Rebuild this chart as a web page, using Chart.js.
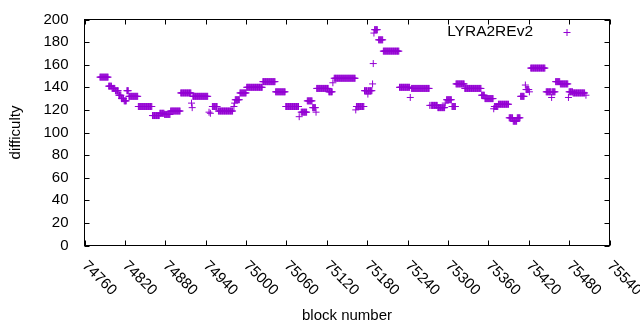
<!DOCTYPE html>
<html>
<head>
<meta charset="utf-8">
<script src="https://cdn.jsdelivr.net/npm/chart.js@4/dist/chart.umd.min.js"></script>
<style>
  html, body { margin: 0; padding: 0; background: #fff; }
</style>
</head>
<body>
<canvas id="chart" width="640" height="330"></canvas>
<script>
// difficulty runs: block from / block to / difficulty
const runFrom = [74783, 74796, 74801, 74806, 74811, 74815, 74819, 74823, 74826, 74840,
  74861, 74872, 74879, 74888, 74903, 74919, 74920, 74921, 74945, 74947,
  74950, 74959, 74982, 74983, 74984, 74991, 75001, 75025, 75044, 75059,
  75079, 75082, 75091, 75099, 75104, 75105, 75123, 75129, 75131, 75163,
  75164, 75176, 75181, 75182, 75188, 75189, 75190, 75191, 75197, 75204,
  75228, 75244, 75246, 75273, 75275, 75285, 75296, 75298, 75306, 75312,
  75325, 75350, 75355, 75368, 75369, 75375, 75391, 75397, 75403, 75408,
  75415, 75416, 75421, 75423, 75446, 75454, 75455, 75460, 75467, 75479,
  75480, 75486, 75505];
const runTo = [74795, 74800, 74805, 74810, 74814, 74818, 74822, 74825, 74839, 74860,
  74871, 74878, 74887, 74902, 74918, 74919, 74920, 74943, 74945, 74947,
  74957, 74980, 74982, 74983, 74990, 75000, 75024, 75043, 75058, 75078,
  75079, 75090, 75098, 75103, 75104, 75122, 75128, 75129, 75162, 75163,
  75175, 75180, 75181, 75187, 75188, 75189, 75190, 75195, 75203, 75227,
  75243, 75244, 75272, 75273, 75284, 75295, 75296, 75305, 75311, 75324,
  75349, 75354, 75367, 75368, 75374, 75390, 75396, 75402, 75407, 75413,
  75415, 75420, 75421, 75444, 75453, 75454, 75459, 75466, 75478, 75479,
  75485, 75503, 75505];
const runDiff = [149, 141, 139, 137, 133, 130, 128, 137, 132, 123,
  115, 117, 116, 119, 135, 126, 122, 132, 118, 117,
  123, 119, 123, 126, 129, 135, 140, 145, 136, 123,
  114, 118, 128, 122, 118, 139, 136, 144, 148, 120,
  123, 137, 134, 137, 143, 161, 188, 191, 182, 172,
  140, 131, 139, 124, 124, 122, 126, 129, 123, 143,
  139, 133, 130, 121, 123, 125, 113, 110, 113, 132,
  142, 138, 136, 157, 136, 131, 136, 145, 143, 131,
  136, 135, 133];

const seriesName = 'LYRA2REv2';
const xTicks = [74760, 74820, 74880, 74940, 75000, 75060, 75120, 75180, 75240, 75300, 75360, 75420, 75480, 75540];
const yTicks = [0, 20, 40, 60, 80, 100, 120, 140, 160, 180, 200];

const FONT = "'Liberation Sans', Arial, sans-serif";
const PURPLE = 'rgb(148, 0, 211)';

// one point per block in each run
let points = [];
for (let i = 0; i < runFrom.length; i++) {
    for (let b = runFrom[i]; b <= runTo[i]; b++) {
        points.push({x: b, y: runDiff[i]});
    }
}

// gnuplot style frame, inward ticks on all sides, rotated x labels, key
const gnuplotFrame = {
    id: 'gnuplotFrame',
    afterDraw(chart) {
        const ctx = chart.ctx;
        const a = chart.chartArea;
        const x = chart.scales.x, y = chart.scales.y;
        ctx.save();
        ctx.strokeStyle = '#000';
        ctx.lineWidth = 1;
        ctx.strokeRect(a.left, a.top, a.right - a.left, a.bottom - a.top);
        ctx.beginPath();
        xTicks.forEach(v => {
            const px = Math.round(x.getPixelForValue(v)) + 0.5;
            ctx.moveTo(px, a.bottom); ctx.lineTo(px, a.bottom - 5);
            ctx.moveTo(px, a.top); ctx.lineTo(px, a.top + 5);
        });
        yTicks.forEach(v => {
            const py = Math.round(y.getPixelForValue(v)) + 0.5;
            ctx.moveTo(a.left, py); ctx.lineTo(a.left + 5, py);
            ctx.moveTo(a.right, py); ctx.lineTo(a.right - 5, py);
        });
        ctx.stroke();

        ctx.fillStyle = '#000';
        ctx.font = '15px ' + FONT;
        ctx.textAlign = 'left';
        ctx.textBaseline = 'middle';
        xTicks.forEach(v => {
            ctx.save();
            ctx.translate(x.getPixelForValue(v), a.bottom + 18);
            ctx.rotate(Math.PI / 4);
            ctx.fillText(String(v), 0, 0);
            ctx.restore();
        });

        // key
        ctx.font = '15.5px ' + FONT;
        ctx.textAlign = 'right';
        ctx.fillText(seriesName, 533, 32);
        ctx.strokeStyle = PURPLE;
        ctx.beginPath();
        ctx.moveTo(563.5, 32.5); ctx.lineTo(570.5, 32.5);
        ctx.moveTo(567, 29); ctx.lineTo(567, 36);
        ctx.stroke();
        ctx.restore();
    }
};

new Chart(document.getElementById('chart'), {
    type: 'scatter',
    data: {
        datasets: [{
            label: seriesName,
            data: points,
            pointStyle: 'cross',
            pointRadius: 3.5,
            pointBorderWidth: 1,
            borderColor: PURPLE,
            backgroundColor: PURPLE,
            showLine: false
        }]
    },
    options: {
        responsive: false,
        animation: false,
        events: [],
        layout: { padding: { top: 19.5, right: 30.5, left: 0, bottom: 0 } },
        plugins: { legend: { display: false }, tooltip: { enabled: false } },
        scales: {
            x: {
                type: 'linear',
                min: 74760,
                max: 75540,
                afterBuildTicks: s => { s.ticks = xTicks.map(v => ({value: v})); },
                afterFit: s => { s.height = 84.5; s.paddingLeft = 0; s.paddingRight = 0; },
                grid: { display: false, drawTicks: false },
                border: { display: false },
                ticks: { display: false },
                title: {
                    display: true,
                    text: 'block number',
                    color: '#000',
                    font: { family: FONT, size: 15 },
                    padding: { top: 0, bottom: 5 }
                }
            },
            y: {
                min: 0,
                max: 200,
                afterBuildTicks: s => { s.ticks = yTicks.map(v => ({value: v})); },
                afterFit: s => { s.width = 84.5; s.paddingTop = 0; s.paddingBottom = 0; },
                grid: { display: false, drawTicks: false },
                border: { display: false },
                ticks: { color: '#000', font: { family: FONT, size: 15 }, padding: 16 },
                title: {
                    display: true,
                    text: 'difficulty',
                    color: '#000',
                    font: { family: FONT, size: 15 },
                    padding: { top: 7, bottom: 0 }
                }
            }
        }
    },
    plugins: [gnuplotFrame]
});
</script>
</body>
</html>
